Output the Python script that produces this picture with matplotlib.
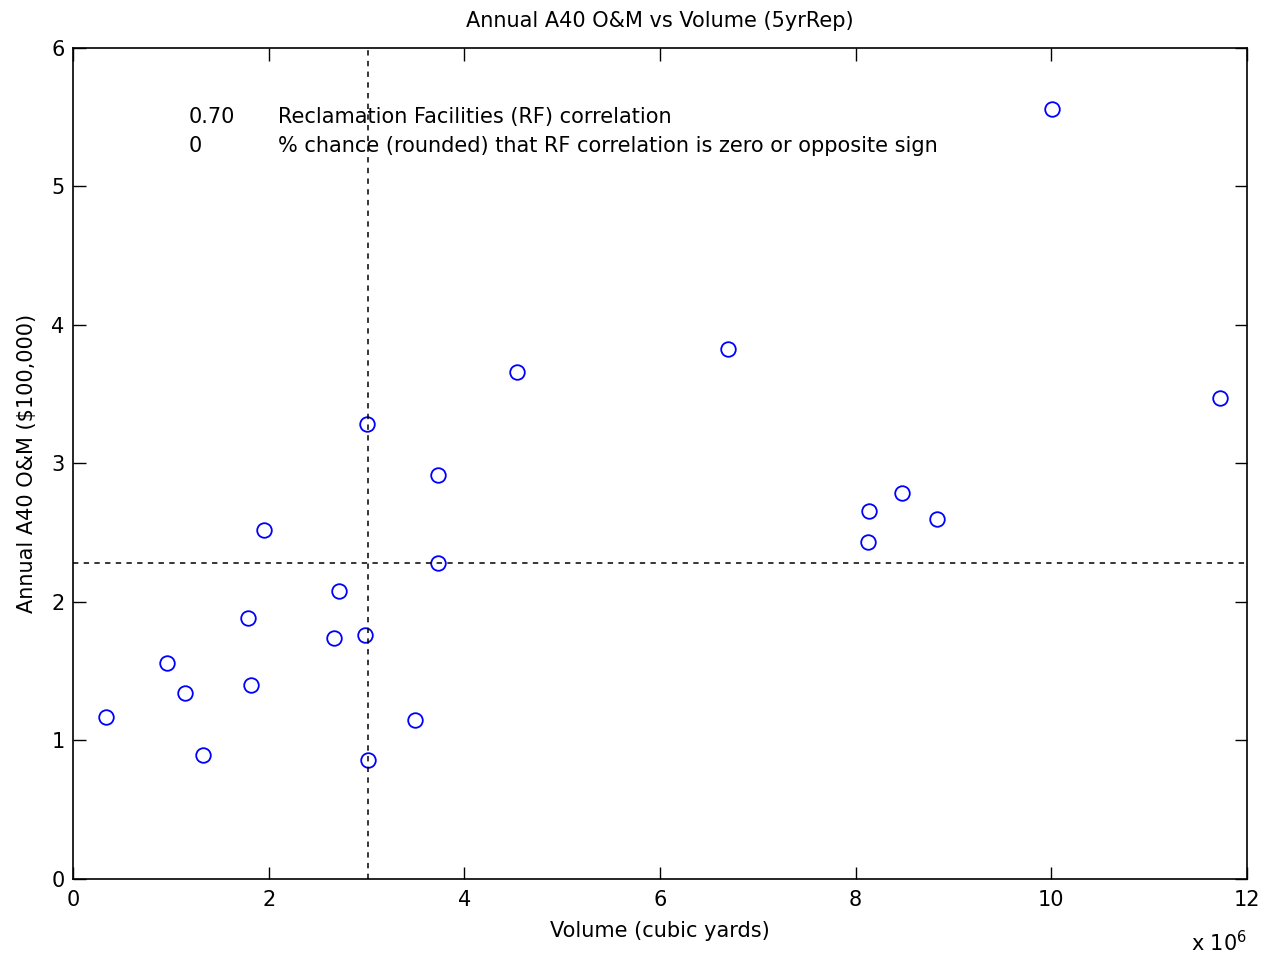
import numpy as np
import matplotlib
matplotlib.use("Agg")
import matplotlib.pyplot as plt
from matplotlib.ticker import FuncFormatter

plt.rcParams['font.family'] = ['DejaVu Sans']
FS = 15

# Annual volume (cubic yards) and annual A40 O&M (units of $100,000)
volume_cy = np.array([0.337, 0.961, 1.145, 1.33, 1.79, 1.82, 1.95, 2.67, 2.72,
                      2.985, 3.00, 3.016, 3.50, 3.73, 3.73, 4.54, 6.69, 8.13,
                      8.14, 8.47, 8.83, 10.01, 11.72]) * 1e6
om_cost = np.array([1.17, 1.56, 1.34, 0.895, 1.885, 1.40, 2.52, 1.74, 2.08,
                    1.76, 3.285, 0.86, 1.15, 2.92, 2.28, 3.66, 3.83, 2.43,
                    2.66, 2.79, 2.60, 5.56, 3.47])

x_ticks = [0, 2, 4, 6, 8, 10, 12]
y_ticks = [0, 1, 2, 3, 4, 5, 6]
corr_text = "0.70"
chance_text = "0"

fig = plt.figure(figsize=(12.61, 9.58), dpi=100)
ax = fig.add_axes([0.0579, 0.0825, 0.931, 0.8674])

ax.plot(volume_cy, om_cost, linestyle='none', marker='o', markersize=10.5,
        markerfacecolor='none', markeredgecolor=(0, 0, 1), markeredgewidth=1.3)

# median cross-hairs
ax.axvline(np.median(volume_cy), color='black', linestyle=(0, (3.5, 3.5)), linewidth=1.1)
ax.axhline(np.median(om_cost), color='black', linestyle=(0, (3.5, 3.5)), linewidth=1.1)

ax.set_xlim(0, 12e6)
ax.set_ylim(0, 6)
ax.set_xticks([t * 1e6 for t in x_ticks])
ax.xaxis.set_major_formatter(FuncFormatter(lambda v, p: f"{v / 1e6:g}"))
ax.set_yticks(y_ticks)
ax.tick_params(direction='in', length=9, width=1, top=True, right=True,
               labelsize=FS)
ax.tick_params(axis='x', pad=8)
ax.tick_params(axis='y', pad=6)
for s in ax.spines.values():
    s.set_linewidth(1.2)

ax.set_title("Annual A40 O&M vs Volume (5yrRep)", fontsize=FS, pad=15)
ax.set_xlabel("Volume (cubic yards)", fontsize=FS, labelpad=8)
ax.set_ylabel("Annual A40 O&M ($100,000)", fontsize=FS, labelpad=10)

ax.text(1.0, -0.062, r"x 10$^6$", transform=ax.transAxes, ha='right', va='top',
        fontsize=FS)

ax.text(1.18e6, 5.50, corr_text, fontsize=FS, va='center')
ax.text(2.10e6, 5.50, "Reclamation Facilities (RF) correlation", fontsize=FS, va='center')
ax.text(1.18e6, 5.29, chance_text, fontsize=FS, va='center')
ax.text(2.10e6, 5.29, "% chance (rounded) that RF correlation is zero or opposite sign",
        fontsize=FS, va='center')

fig.savefig("out.png", dpi=100, facecolor='white')
